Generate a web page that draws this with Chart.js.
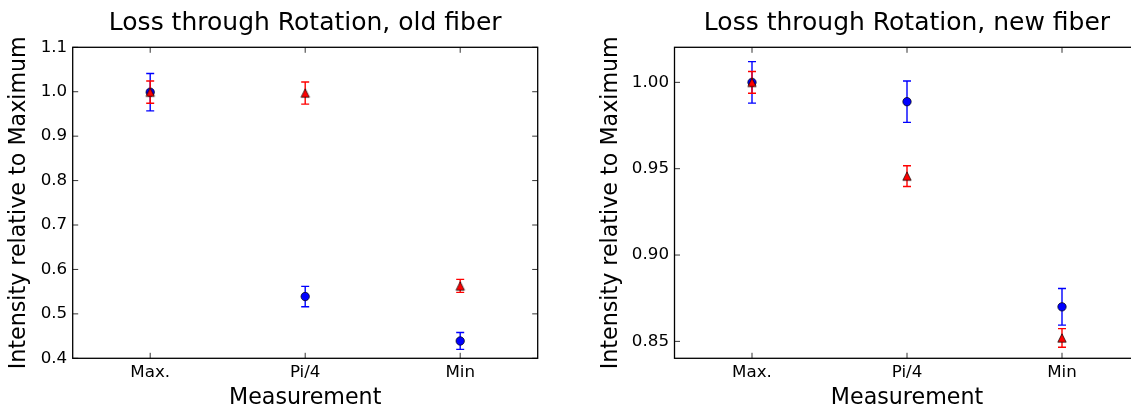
<!DOCTYPE html>
<html><head><meta charset="utf-8">
<script src="https://cdn.jsdelivr.net/npm/chart.js@4/dist/chart.umd.min.js"></script>
<style>
html,body{margin:0;padding:0;background:#fff;width:1131px;height:409px;overflow:hidden;position:relative}
canvas{position:absolute;top:0}
</style></head><body>
<canvas id="c1" width="565" height="409" style="left:0;width:565px;height:409px"></canvas>
<canvas id="c2" width="575" height="409" style="left:592px;width:575px;height:409px"></canvas>
<script>
const categories = ['Max.', 'Pi/4', 'Min'];

const oldBlue    = [0.999, 0.539, 0.439];
const oldBlueErr = [0.042, 0.023, 0.019];
const oldRed     = [0.999, 0.997, 0.563];
const oldRedErr  = [0.025, 0.025, 0.0146];

const newBlue    = [1.000, 0.9888, 0.870];
const newBlueErr = [0.012, 0.012, 0.0106];
const newRed     = [1.000, 0.9457, 0.852];
const newRedErr  = [0.0063, 0.006, 0.0054];

const oldTicks = [0.4, 0.5, 0.6, 0.7, 0.8, 0.9, 1.0, 1.1];
const newTicks = [0.85, 0.90, 0.95, 1.00];
const oldRange = [0.4, 1.1];
const newRange = [0.8402, 1.0203];

const FONT = 'DejaVu Sans';

function makeTriangle() {
  const c = document.createElement('canvas');
  c.width = 12; c.height = 12;
  const g = c.getContext('2d');
  g.beginPath();
  g.moveTo(6, 1.8);
  g.lineTo(10.2, 10.2);
  g.lineTo(1.8, 10.2);
  g.closePath();
  g.fillStyle = '#ff0000';
  g.fill();
  g.lineWidth = 0.7;
  g.strokeStyle = '#000';
  g.stroke();
  return c;
}
const triImg = makeTriangle();

const errorBars = {
  id: 'errorBars',
  beforeDatasetDraw(chart, args) {
    const ds = chart.data.datasets[args.index];
    if (!ds.errors) return;
    const y = chart.scales.y;
    const ctx = chart.ctx;
    ctx.save();
    ctx.strokeStyle = ds.errColor;
    ctx.lineWidth = 1.4;
    args.meta.data.forEach((pt, i) => {
      const v = ds.data[i], e = ds.errors[i];
      const yt = y.getPixelForValue(v + e), yb = y.getPixelForValue(v - e);
      const x = pt.x;
      ctx.beginPath();
      ctx.moveTo(x, yt); ctx.lineTo(x, yb);
      ctx.moveTo(x - 4, yt); ctx.lineTo(x + 4, yt);
      ctx.moveTo(x - 4, yb); ctx.lineTo(x + 4, yb);
      ctx.stroke();
    });
    ctx.restore();
  }
};

const frameTicks = {
  id: 'frameTicks',
  afterDraw(chart) {
    const {ctx, chartArea: a, scales} = chart;
    ctx.save();
    ctx.strokeStyle = '#000';
    ctx.lineWidth = 0.8;
    const L = 5.5;
    ctx.beginPath();
    scales.y.ticks.forEach(t => {
      const py = scales.y.getPixelForValue(t.value);
      ctx.moveTo(a.left, py); ctx.lineTo(a.left + L, py);
      ctx.moveTo(a.right, py); ctx.lineTo(a.right - L, py);
    });
    scales.x.ticks.forEach((t, i) => {
      const px = scales.x.getPixelForTick(i);
      ctx.moveTo(px, a.bottom); ctx.lineTo(px, a.bottom - L);
      ctx.moveTo(px, a.top); ctx.lineTo(px, a.top + L);
    });
    ctx.stroke();
    ctx.lineWidth = 1.3;
    ctx.strokeRect(a.left, a.top, a.right - a.left, a.bottom - a.top);
    ctx.restore();
  }
};

function makeChart(id, title, blue, blueErr, red, redErr, ticks, decimals, range, yAxisWidth, padRight) {
  return new Chart(document.getElementById(id), {
    type: 'line',
    data: {
      labels: categories,
      datasets: [
        {
          data: blue, errors: blueErr, errColor: '#0000ff', showLine: false, order: 2,
          pointStyle: 'circle', pointRadius: 4.2, pointBackgroundColor: '#0000ff',
          pointBorderColor: '#000', pointBorderWidth: 0.7,
          borderColor: '#0000ff', backgroundColor: '#0000ff'
        },
        {
          data: red, errors: redErr, errColor: '#ff0000', showLine: false, order: 1,
          pointStyle: triImg, pointRadius: 6, pointBackgroundColor: '#ff0000',
          pointBorderColor: '#000', pointBorderWidth: 0.7,
          borderColor: '#ff0000', backgroundColor: '#ff0000'
        }
      ]
    },
    options: {
      responsive: false,
      animation: false,
      events: [],
      layout: { padding: { left: 0, right: padRight, top: 0, bottom: 0 } },
      plugins: {
        legend: { display: false },
        tooltip: { enabled: false },
        title: {
          display: true, text: title, color: '#000', fullSize: false,
          font: { family: FONT, size: 25, weight: 'normal', lineHeight: 1.2 },
          padding: { top: 8.65, bottom: 8.65 }
        }
      },
      scales: {
        x: {
          type: 'category', offset: true,
          grid: { display: false, drawTicks: false }, border: { display: false },
          ticks: { color: '#000', font: { family: FONT, size: 16.7 }, padding: 4.4, maxRotation: 0 },
          title: { display: true, text: 'Measurement', color: '#000',
                   font: { family: FONT, size: 22.2, lineHeight: 1 }, padding: { top: 0, bottom: 0 } },
          afterFit(s) { s.height = 50.7; }
        },
        y: {
          type: 'linear', min: range[0], max: range[1],
          grid: { display: false, drawTicks: false }, border: { display: false },
          afterBuildTicks(s) { s.ticks = ticks.map(v => ({ value: v })); },
          ticks: { color: '#000', font: { family: FONT, size: 16.7 }, padding: 5.5, autoSkip: false,
                   callback: v => Number(v).toFixed(decimals) },
          title: { display: true, text: 'Intensity relative to Maximum', color: '#000',
                   font: { family: FONT, size: 22.2, lineHeight: 1 }, padding: { top: 8.2, bottom: 0 } },
          afterFit(s) { s.width = yAxisWidth; }
        }
      }
    },
    plugins: [errorBars, frameTicks]
  });
}

makeChart('c1', 'Loss through Rotation, old fiber', oldBlue, oldBlueErr, oldRed, oldRedErr,
          oldTicks, 1, oldRange, 72.7, 27.3);
makeChart('c2', 'Loss through Rotation, new fiber', newBlue, newBlueErr, newRed, newRedErr,
          newTicks, 2, newRange, 82.5, 27.5);
</script>
</body></html>
